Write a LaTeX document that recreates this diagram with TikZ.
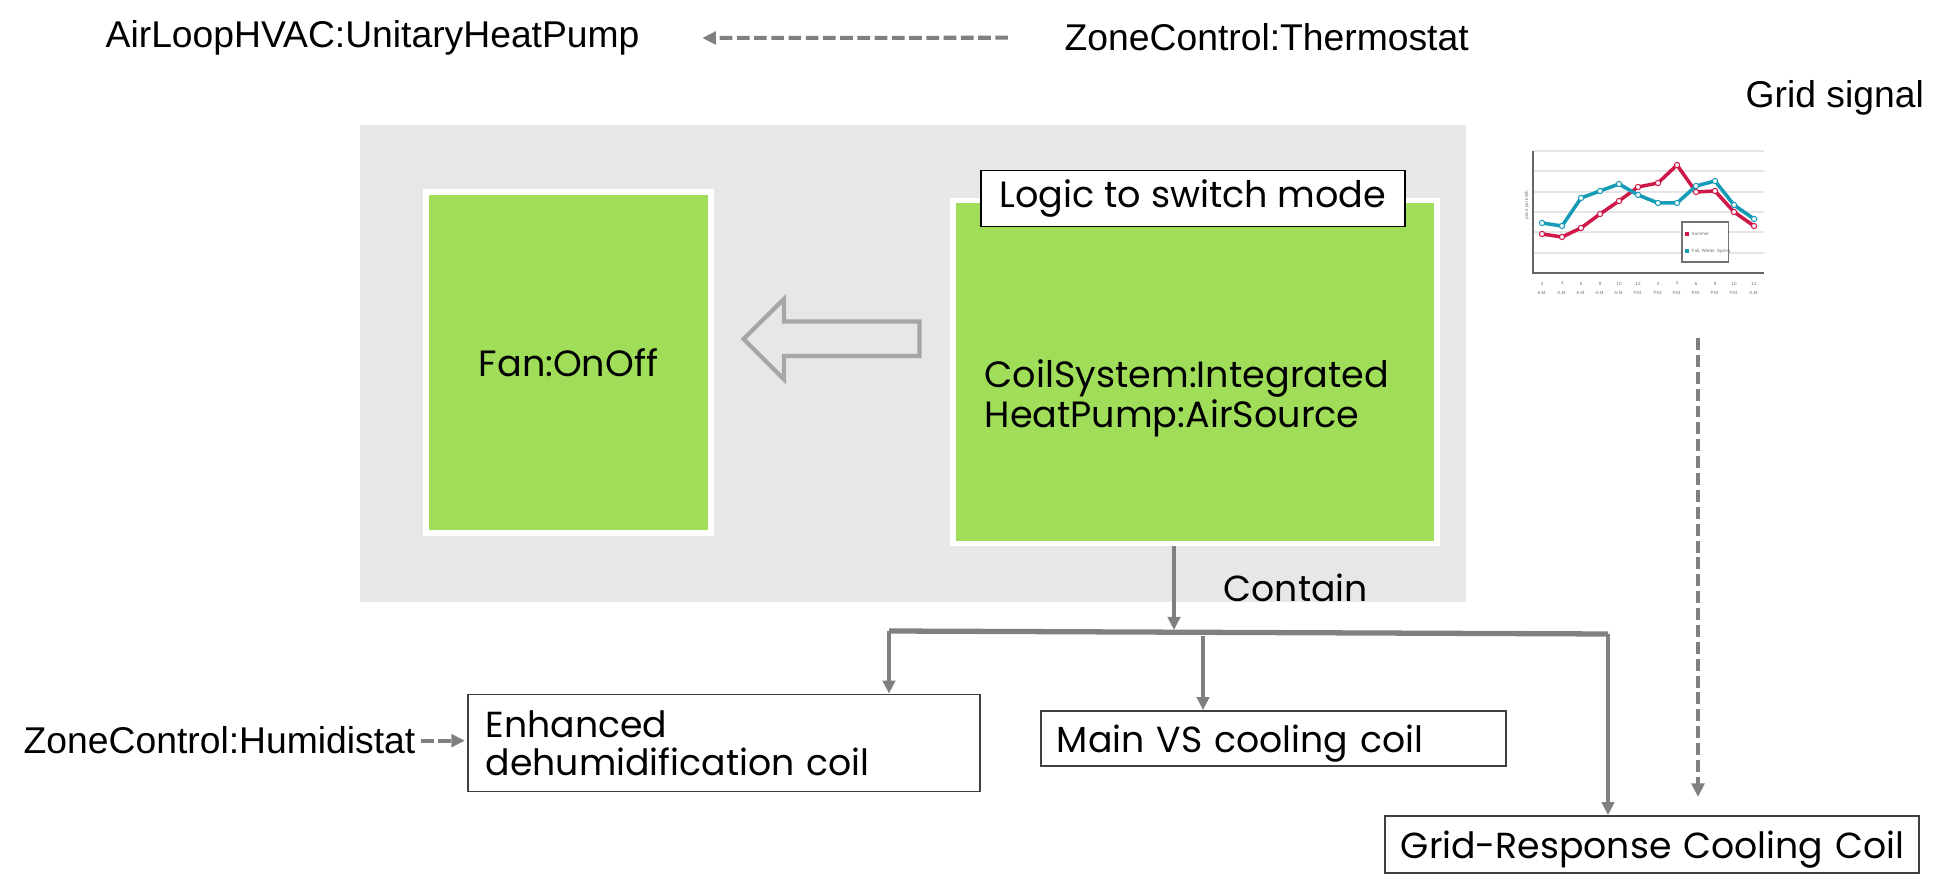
\documentclass[tikz,border=0pt]{standalone}
\usepackage{fontspec}
\usepackage{tikz}
\setmainfont{Liberation Sans}
\newfontfamily\gothic{Poppins}
\definecolor{boxgreen}{RGB}{160,222,90}
\definecolor{panelgrey}{RGB}{231,231,231}
\definecolor{linkgrey}{RGB}{128,128,128}
\definecolor{hollowgrey}{RGB}{166,166,168}
\definecolor{summerred}{RGB}{206,24,72}
\definecolor{seasonteal}{RGB}{22,155,182}
\usetikzlibrary{arrows.meta}
\usetikzlibrary{positioning}
\newcommand\arialsize{\fontsize{10.6}{12}\selectfont}
\newcommand\gothicbig{\gothic\fontsize{10.4}{11.4}\selectfont}
\newcommand\gothicsmall{\gothic\fontsize{10.3}{10.7}\selectfont}
\newcommand\charttiny{\fontsize{1.3}{2.6}\selectfont}

\begin{document}
\begin{tikzpicture}[x=0.01cm,y=-0.01cm,
    panel/.style={fill=panelgrey, inner sep=0pt},
    greenbox/.style={draw=white, line width=1.6pt, fill=boxgreen, inner sep=0pt, font=\gothicbig},
    coilbox/.style={draw=black!75, line width=0.5pt, fill=white, inner sep=0pt, font=\gothicsmall},
    plainlabel/.style={inner sep=0pt, font=\arialsize},
    link/.style={draw=linkgrey, line width=1.2pt, -{Triangle[length=3.7pt,width=3.5pt]}},
    dashlink/.style={draw=linkgrey, line width=1.15pt, dash pattern=on 3.6pt off 1.3pt,
        -{Triangle[length=3.9pt,width=3.6pt]}},
    ticklabel/.style={inner sep=0pt, text=black!55, font=\charttiny, align=center}
]
\useasboundingbox (0,0) rectangle (1946,889);

% top labels
\node[plainlabel, anchor=base west] (airloop) at (105,47.7) {AirLoopHVAC:UnitaryHeatPump};
\node[plainlabel, anchor=base west] (thermo) at (1064,51) {ZoneControl:Thermostat};
\node[plainlabel, anchor=base west] (gridsig) at (1745,108) {Grid signal};
\draw[dashlink, shorten <=0.56cm, shorten >=0.62cm] (thermo.west) -- (airloop.east);

% grey panel with the two components
\node[panel, minimum width=11.06cm, minimum height=4.77cm] (panel) at (913,363.5) {};
\node[greenbox, minimum width=2.85cm, minimum height=3.41cm] (fan) at (568.5,362.5) {Fan:OnOff};
\node[greenbox, minimum width=4.84cm, minimum height=3.43cm] (coil) at (1195,372) {};
\node[inner sep=0pt, font=\gothicbig, anchor=west, align=left] (coiltext) at (984,398)
    {CoilSystem:Integrated\\HeatPump:AirSource};
\node[draw=black, line width=0.5pt, fill=white, inner sep=0pt, font=\gothicbig,
    minimum width=4.24cm, minimum height=0.56cm] (logic) at (1193,198.5) {Logic to switch mode};
\draw[hollowgrey, line width=1.2pt, fill=panelgrey]
    (919.5,321.5) -- (784,321.5) -- (784,299) -- (743.5,339) -- (784,379.5)
    -- (784,356) -- (919.5,356) -- cycle;

% coils
\node[coilbox, minimum width=5.12cm, minimum height=0.97cm, text width=4.76cm, align=left]
    (enh) at (724,743) {Enhanced\\dehumidification coil};
\node[coilbox, minimum width=4.65cm, minimum height=0.55cm, text width=4.33cm, align=left,
    text height=9.2pt, text depth=1.5pt] (main) at (1273.5,738.5) {\mbox{Main VS cooling coil}};
\node[coilbox, minimum width=5.34cm, minimum height=0.57cm, text width=5.02cm, align=left,
    text height=9.2pt, text depth=1.5pt] (grid) at (1652,844.5) {\mbox{Grid-Response Cooling Coil}};

% contain tree
\coordinate (hub) at (1174,630);
\coordinate (busL) at (889,631);
\coordinate (busR) at (1608,634);
\coordinate (mainfork) at (1203,636);
\draw[link] (coil.south -| hub) -- (hub);
\node[inner sep=0pt, font=\gothicsmall, anchor=base west] (contain) at (1223,601.7) {Contain};
\draw[draw=linkgrey, line width=1.5pt] (busL) -- (busR);
\draw[link] (busL) -- (busL |- enh.north);
\draw[link] (mainfork) -- (mainfork |- main.north);
\draw[link] (busR) -- (busR |- grid.north);

% humidistat
\node[plainlabel, anchor=base west] (humid) at (23,754) {ZoneControl:Humidistat};
\draw[dashlink, shorten <=0.05cm, shorten >=0.02cm] (humid.east) -- (humid.east -| enh.west);

% price chart
\foreach \gy in {151,171,192,212,232,253}
    \draw[black!10, line width=0.3pt] (1533,\gy) -- (1764,\gy);
\draw[black!60, line width=0.4pt] (1533,151) -- (1533,273) -- (1764,273);
\node[ticklabel, rotate=90] (ylab) at (1527,205) {price per kWh};
\foreach \tx/\lab [count=\i] in {1542/2\\A.M., 1562/4\\A.M., 1581/6\\A.M., 1600/8\\A.M.,
        1619/10\\A.M., 1638/12\\P.M., 1658/2\\P.M., 1677/4\\P.M., 1696/6\\P.M.,
        1715/8\\P.M., 1734/10\\P.M., 1754/12\\A.M.}
    \node[ticklabel] (tick\i) at (\tx,288) {\lab};
\draw[summerred, line width=1pt, mark=*, mark size=0.75pt,
    mark options={fill=white, draw=summerred, line width=0.3pt}]
    plot coordinates {(1542,234) (1562,237) (1581,228) (1600,214) (1619,201) (1638,187)
        (1658,183) (1677,165) (1696,192) (1715,191) (1734,212) (1754,226)};
\draw[seasonteal, line width=1pt, mark=*, mark size=0.75pt,
    mark options={fill=white, draw=seasonteal, line width=0.3pt}]
    plot coordinates {(1542,223) (1562,226) (1581,198) (1600,191) (1619,184) (1638,195)
        (1658,203) (1677,203) (1696,186) (1715,181) (1734,205) (1754,219)};
\node[draw=black!55, line width=0.3pt, fill=white, minimum width=0.46cm, minimum height=0.4cm]
    (legend) at (1705,242) {};
\fill[summerred] (1685,232) rectangle (1689,236);
\node[ticklabel, anchor=west] (legsummer) at (1691,234) {Summer};
\fill[seasonteal] (1685,249) rectangle (1689,253);
\node[ticklabel, anchor=west] (legother) at (1691,251) {Fall, Winter, Spring};

% grid signal to grid-response coil
\coordinate (gridsrc) at (1698,338);
\draw[dashlink, dash pattern=on 3.4pt off 1.4pt, shorten >=0.18cm] (gridsrc) -- (gridsrc |- grid.north);
\end{tikzpicture}
\end{document}
